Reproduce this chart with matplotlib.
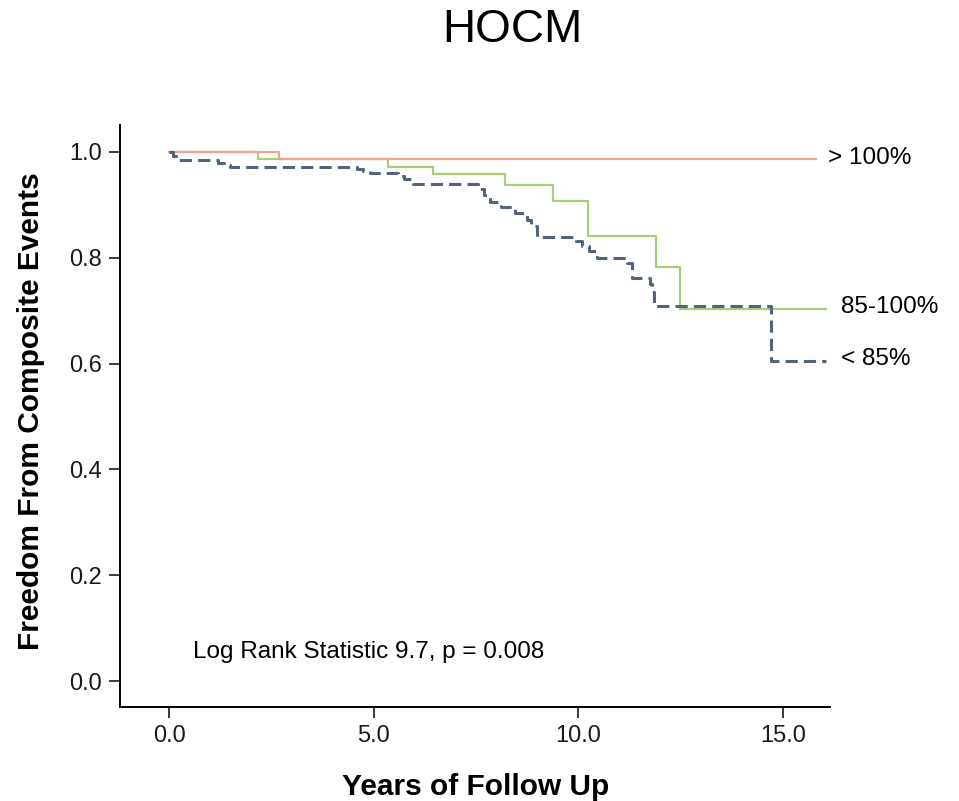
import matplotlib

matplotlib.use("Agg")
import matplotlib.pyplot as plt

# Kaplan-Meier style curves (years, survival)
red_t = [0.0, 2.68, 15.8]
red_s = [1.0, 0.987, 0.987]

green_t = [0.0, 2.17, 5.35, 6.44, 8.2, 9.38, 10.24, 11.9, 12.49, 16.05]
green_s = [1.0, 0.987, 0.972, 0.958, 0.937, 0.907, 0.841, 0.782, 0.703, 0.703]

blue_t = [0.0, 0.1, 0.25, 1.2, 1.35, 1.5, 4.6, 4.75, 4.9, 5.6, 5.75, 5.95,
          7.55, 7.7, 7.85, 8.1, 8.45, 8.75, 8.85, 9.0, 9.95, 10.1, 10.25,
          10.45, 11.2, 11.3, 11.75, 11.8, 11.85, 14.7, 16.05]
blue_s = [1.0, 0.992, 0.985, 0.98, 0.976, 0.972, 0.968, 0.964, 0.96, 0.954,
          0.948, 0.94, 0.93, 0.918, 0.905, 0.896, 0.885, 0.872, 0.86, 0.839,
          0.832, 0.822, 0.812, 0.80, 0.79, 0.762, 0.75, 0.735, 0.709, 0.605,
          0.605]

curve_labels = ["> 100%", "85-100%", "< 85%"]
x_ticks = [0, 5, 10, 15]
y_ticks = [0.0, 0.2, 0.4, 0.6, 0.8, 1.0]

RED = "#f4a393"
GREEN = "#a8ce74"
BLUE = "#52647c"

plt.rcParams["font.family"] = ["Liberation Sans", "DejaVu Sans"]

fig = plt.figure(figsize=(9.59, 8.01), dpi=100)
ax = fig.add_axes([0.1251, 0.1174, 0.7404, 0.7266])

# green first so the red line sits on top where they share a level
ax.step(green_t, green_s, where="post", color=GREEN, lw=1.6)
ax.step(red_t, red_s, where="post", color=RED, lw=1.6)
ax.step(blue_t, blue_s, where="post", color=BLUE, lw=2.2, dashes=(4, 2))

ax.set_xlim(-1.2, 16.15)
ax.set_ylim(-0.049, 1.051)
ax.set_xticks(x_ticks)
ax.set_xticklabels([f"{v:.1f}" for v in x_ticks])
ax.set_yticks(y_ticks)
ax.set_yticklabels([f"{v:.1f}" for v in y_ticks])
ax.tick_params(labelsize=17, length=8, width=1.2, pad=5, colors="#1a1a1a")

for side in ("top", "right"):
    ax.spines[side].set_visible(False)
for side in ("left", "bottom"):
    ax.spines[side].set_linewidth(1.4)

# curve labels outside the plot area
ax.text(16.1, 0.989, curve_labels[0], fontsize=17.5, va="center", clip_on=False)
ax.text(16.42, 0.707, curve_labels[1], fontsize=17.5, va="center", clip_on=False)
ax.text(16.42, 0.609, curve_labels[2], fontsize=17.5, va="center", clip_on=False)

ax.text(0.59, 0.055, "Log Rank Statistic 9.7, p = 0.008", fontsize=17.5,
        va="center", ha="left")

fig.text(0.534, 1 - 30 / 801, "HOCM", fontsize=33, ha="center", va="center")
fig.text(476 / 959, 1 - 787 / 801, "Years of Follow Up", fontsize=21.5,
         fontweight="bold", ha="center", va="center")
fig.text(31 / 959, 1 - 411 / 801, "Freedom From Composite Events",
         fontsize=21.5, fontweight="bold", ha="center", va="center",
         rotation=90)

fig.savefig("out.png", dpi=100, facecolor="white")
